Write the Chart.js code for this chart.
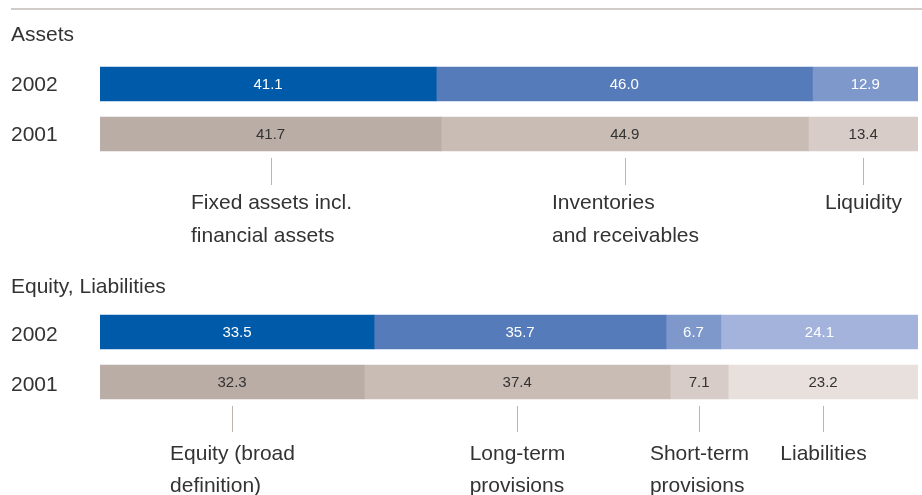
<!DOCTYPE html>
<html>
<head>
<meta charset="utf-8">
<script src="https://cdn.jsdelivr.net/npm/chart.js@4"></script>
<style>
    body { margin: 0; background: #ffffff; }
    canvas { display: block; }
</style>
</head>
<body>
<canvas id="chartAssets" width="922" height="260"></canvas>
<canvas id="chartEquity" width="922" height="235"></canvas>
<script>
// data

var years = ["2002", "2001"];

var assetNames = [
    ["Fixed assets incl.", "financial assets"],
    ["Inventories", "and receivables"],
    ["Liquidity"]
];
var assets2002 = [41.1, 46.0, 12.9];
var assets2001 = [41.7, 44.9, 13.4];

var equityNames = [
    ["Equity (broad", "definition)"],
    ["Long-term", "provisions"],
    ["Short-term", "provisions"],
    ["Liabilities"]
];
var equity2002 = [33.5, 35.7, 6.7, 24.1];
var equity2001 = [32.3, 37.4, 7.1, 23.2];

// colours

var blues = ["#005AAA", "#557BBB", "#7F98CB", "#A3B3DB"];
var greys = ["#BAADA6", "#C9BCB4", "#D7CCC7", "#E8E0DD"];
var textColor = "#333333";
var fontFamily = "'Liberation Sans', Arial, Helvetica, sans-serif";

// draws values in the bars, the section title and the labels below
var annotPlugin = {
    id: "annot",
    afterDatasetsDraw: function(chart, args, opts)
    {
        var ctx = chart.ctx;
        var xScale = chart.scales.x;
        ctx.save();

        // values inside the bars
        ctx.font = "15px " + fontFamily;
        ctx.textAlign = "center";
        ctx.textBaseline = "middle";
        chart.data.datasets.forEach(function(ds, i)
        {
            var meta = chart.getDatasetMeta(i);
            meta.data.forEach(function(el, j)
            {
                ctx.fillStyle = (j == 0) ? "#ffffff" : textColor;
                ctx.fillText(ds.data[j].toFixed(1), (el.x + el.base) / 2, el.y + 1);
            });
        });

        // top rule
        if(opts.topLine)
        {
            ctx.fillStyle = "#D3CBC7";
            ctx.fillRect(11, 8, chart.width - 11, 2);
        }

        // section title
        ctx.font = "21px " + fontFamily;
        ctx.fillStyle = textColor;
        ctx.textAlign = "left";
        ctx.textBaseline = "alphabetic";
        ctx.fillText(opts.title, 11, opts.titleY);

        // ticks and labels under the 2001 bar
        var lastBar = chart.getDatasetMeta(0).data[1];
        var barBottom = lastBar.y + lastBar.height / 2;
        var sum = 0;
        chart.data.datasets.forEach(function(ds, i)
        {
            var v = ds.data[1];
            var cx = Math.round(xScale.getPixelForValue(sum + v / 2)) + 0.5;
            sum += v;

            ctx.strokeStyle = "#BFB3AD";
            ctx.lineWidth = 1;
            ctx.beginPath();
            ctx.moveTo(cx, barBottom + opts.tick[0]);
            ctx.lineTo(cx, barBottom + opts.tick[1]);
            ctx.stroke();

            var lines = opts.names[i];
            var w = 0;
            lines.forEach(function(t) { w = Math.max(w, ctx.measureText(t).width); });
            lines.forEach(function(t, k)
            {
                ctx.fillText(t, cx - w / 2, barBottom + opts.lines[k]);
            });
        });

        ctx.restore();
    }
};

function makeChart(id, v2002, v2001, padTop, padBottom, yearShift, annot)
{
    var datasets = [];
    for(var i = 0; i < v2002.length; i++)
    {
        datasets.push({
            data: [v2002[i], v2001[i]],
            backgroundColor: [blues[i], greys[i]],
            borderWidth: 0,
            barThickness: 34
        });
    }

    return new Chart(document.getElementById(id), {
        type: "bar",
        data: { labels: years, datasets: datasets },
        plugins: [annotPlugin],
        options: {
            indexAxis: "y",
            responsive: false,
            animation: false,
            layout: { padding: { top: padTop, bottom: padBottom, left: 11, right: 4 } },
            plugins: {
                legend: { display: false },
                tooltip: { enabled: false },
                annot: annot
            },
            scales: {
                x: { stacked: true, min: 0, max: 100, display: false },
                y: {
                    stacked: true,
                    grid: { display: false },
                    border: { display: false },
                    ticks: {
                        crossAlign: "far",
                        padding: 0,
                        labelOffset: yearShift,
                        color: textColor,
                        font: { size: 21, family: fontFamily }
                    },
                    afterFit: function(scale) { scale.width = 89; }
                }
            }
        }
    });
}

var chartAssets = makeChart("chartAssets", assets2002, assets2001, 59, 101, 1.5, {
    title: "Assets", titleY: 41, topLine: true,
    names: assetNames, tick: [7, 34], lines: [58, 91]
});

var chartEquity = makeChart("chartEquity", equity2002, equity2001, 47, 88, 3, {
    title: "Equity, Liabilities", titleY: 33, topLine: false,
    names: equityNames, tick: [7, 33], lines: [61, 93]
});
</script>
</body>
</html>
